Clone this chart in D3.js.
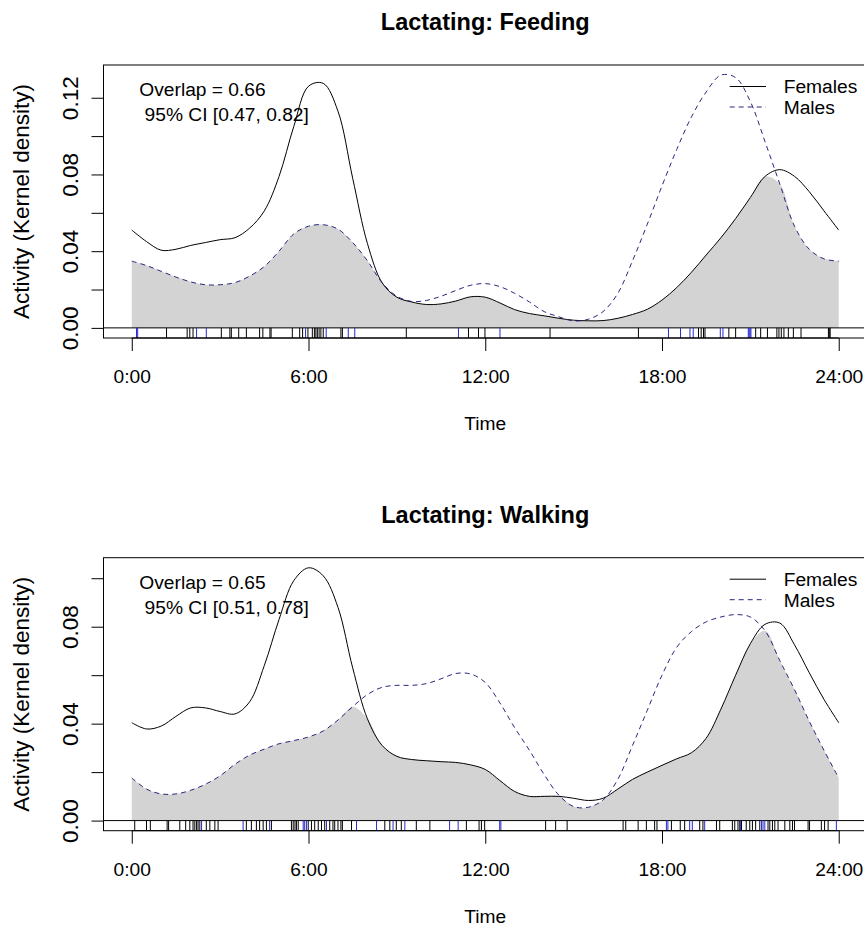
<!DOCTYPE html>
<html>
<head>
<meta charset="utf-8">
<script src="https://cdn.jsdelivr.net/npm/d3@7"></script>
<style>
  body { margin: 0; background: #fff; }
  svg { display: block; }
  text { font-family: "Liberation Sans", Arial, Helvetica, sans-serif; fill: #000; }
</style>
</head>
<body>
<svg id="chart" width="864" height="927"></svg>
<script>
// Time of day (hours) at which the kernel densities are tabulated
const hours = [0, 0.5, 1, 1.5, 2, 2.5, 3, 3.5, 4, 4.5, 5, 5.5, 6, 6.5, 7, 7.5, 8, 8.5, 9, 9.5,
  10, 10.5, 11, 11.5, 12, 12.5, 13, 13.5, 14, 14.5, 15, 15.5, 16, 16.5, 17, 17.5, 18, 18.5, 19, 19.5,
  20, 20.5, 21, 21.5, 22, 22.5, 23, 23.5, 24];

// Feeding densities
const feedingFemales = [0.051, 0.045, 0.0405, 0.041, 0.043, 0.0445, 0.046, 0.047, 0.052, 0.061,
  0.079, 0.105, 0.126, 0.1275, 0.113, 0.078, 0.044, 0.0235, 0.016, 0.0135,
  0.0122, 0.0125, 0.014, 0.0162, 0.016, 0.013, 0.0095, 0.0075, 0.0063, 0.005,
  0.004, 0.0037, 0.0038, 0.005, 0.007, 0.0097, 0.0145, 0.021, 0.029, 0.038,
  0.047, 0.057, 0.068, 0.079, 0.0825, 0.079, 0.071, 0.061, 0.051];
const feedingMales = [0.0348, 0.0325, 0.0295, 0.0265, 0.024, 0.0225, 0.0225, 0.0236, 0.027, 0.032,
  0.040, 0.049, 0.053, 0.0538, 0.0515, 0.0445, 0.035, 0.0235, 0.0165, 0.0138,
  0.0143, 0.0165, 0.0195, 0.0222, 0.0231, 0.0215, 0.018, 0.0135, 0.0085, 0.0058,
  0.0036, 0.0045, 0.0085, 0.018, 0.035, 0.054, 0.074, 0.093, 0.110, 0.123,
  0.1318, 0.1305, 0.118, 0.097, 0.075, 0.053, 0.041, 0.036, 0.0348];

// Walking densities
const walkingFemales = [0.0404, 0.0378, 0.039, 0.043, 0.0465, 0.0465, 0.045, 0.044, 0.049, 0.064,
  0.083, 0.099, 0.1043, 0.101, 0.088, 0.063, 0.042, 0.031, 0.0265, 0.0252,
  0.0247, 0.0243, 0.024, 0.023, 0.0211, 0.0165, 0.012, 0.010, 0.010, 0.010,
  0.0092, 0.0083, 0.0092, 0.013, 0.017, 0.020, 0.0228, 0.0255, 0.028, 0.034,
  0.046, 0.060, 0.073, 0.081, 0.0815, 0.0725, 0.061, 0.050, 0.0404];
const walkingMales = [0.0176, 0.013, 0.011, 0.011, 0.0125, 0.015, 0.0185, 0.0232, 0.027, 0.0295,
  0.0317, 0.033, 0.0345, 0.037, 0.0415, 0.047, 0.052, 0.055, 0.0558, 0.0558,
  0.0565, 0.0585, 0.0607, 0.0605, 0.057, 0.0485, 0.0383, 0.029, 0.019, 0.0105,
  0.0058, 0.0055, 0.0085, 0.017, 0.031, 0.0455, 0.060, 0.0715, 0.078, 0.082,
  0.084, 0.085, 0.084, 0.0783, 0.066, 0.054, 0.041, 0.029, 0.0176];

// Observation times (rug)
const feedingRugFemales = [1.18, 1.88, 1.97, 2.08, 3.04, 3.33, 3.38, 3.63, 3.89, 4.34, 4.45, 4.69, 4.73,
  5.45, 5.7, 5.8, 5.98, 6.13, 6.2, 6.25, 6.3, 6.36, 6.42, 6.5, 7.1, 7.15, 9.32, 11.43, 11.77, 11.99,
  14.2, 17.2, 19.24, 19.33, 19.41, 19.46, 20.27, 20.5, 21.18, 21.35, 21.58, 21.9, 21.97, 22.05, 22.14,
  22.29, 22.46, 22.72, 23.65, 23.68, 23.71];
const feedingRugMales = [0.16, 0.2, 2.2, 2.53, 5.9, 6.6, 7.35, 7.57, 11.09, 12.5, 18.22, 18.63, 18.95,
  19.06, 19.98, 20.07, 20.93, 20.96, 20.99, 21.02];
const walkingRugFemales = [0.1, 0.5, 0.63, 1.2, 1.25, 1.63, 1.83, 1.97, 2.08, 2.14, 2.2, 2.25, 2.31, 2.53,
  2.65, 2.82, 2.93, 3.89, 4.06, 4.23, 4.34, 4.46, 4.57, 4.74, 5.42, 5.48, 5.54, 5.59, 5.65, 5.99, 6.1,
  6.21, 6.33, 6.44, 6.55, 6.72, 6.83, 6.89, 7.0, 7.1, 7.15, 7.46, 8.59, 8.76, 8.98, 9.15, 9.66, 10.12,
  11.36, 11.79, 11.87, 11.98, 14.05, 14.39, 14.78, 16.68, 16.77, 17.19, 17.47, 17.75, 17.83, 18.32,
  18.62, 18.77, 19.28, 19.39, 19.85, 19.96, 20.39, 20.47, 20.58, 20.64, 20.7, 20.86, 20.98, 21.07,
  21.18, 21.32, 21.6, 21.66, 21.75, 21.83, 21.94, 22.17, 22.34, 22.43, 22.5, 22.96, 23.01, 23.41,
  23.52, 23.64];
const walkingRugMales = [2.37, 3.78, 4.68, 5.82, 5.87, 5.93, 6.61, 7.63, 8.31, 8.87, 9.27, 10.79, 11.08,
  12.49, 12.53, 18.15, 18.2, 18.94, 19.03, 19.45, 20.66, 21.38, 21.43, 21.49, 23.92];

// Axis ticks and labels
const xTicks = [0, 6, 12, 18, 24];
const xTickLabels = ["0:00", "6:00", "12:00", "18:00", "24:00"];
const feedingYTicks = [0, 0.02, 0.04, 0.06, 0.08, 0.10, 0.12];
const feedingYTickLabels = ["0.00", "", "0.04", "", "0.08", "", "0.12"];
const walkingYTicks = [0, 0.02, 0.04, 0.06, 0.08, 0.10];
const walkingYTickLabels = ["0.00", "", "0.04", "", "0.08", ""];
const seriesNames = ["Females", "Males"];

const svg = d3.select("#chart");
const TICK_FONT = 19.2;   // horizontal labels
const ROT_FONT = 22.5;    // rotated labels
const MALE_COL = "#28287e";
const RUG_BLUE = "#2a2ad0";

function drawPanel(p) {
  const boxL = 103.5, boxR = 867, boxT = p.top, boxB = p.top + 273;
  const x = d3.scaleLinear().domain([-0.04 * 24, 24 * 1.04]).range([boxL, boxR]);
  const ymax = d3.max(p.females.concat(p.males));
  const y = d3.scaleLinear().domain([-0.04 * ymax, 1.04 * ymax]).range([boxB, boxT]);
  const g = svg.append("g");

  const rows = hours.map((h, i) => ({ h, f: p.females[i], m: p.males[i] }));
  const curve = d3.curveCatmullRom.alpha(0.5);

  // shared (overlap) area
  g.append("path")
    .attr("d", d3.area().curve(curve).x(d => x(d.h)).y0(y(0)).y1(d => y(Math.min(d.f, d.m)))(rows))
    .attr("fill", "#d3d3d3").attr("stroke", "none");

  // density lines
  g.append("path")
    .attr("d", d3.line().curve(curve).x(d => x(d.h)).y(d => y(d.f))(rows))
    .attr("fill", "none").attr("stroke", "#000").attr("stroke-width", 1);
  g.append("path")
    .attr("d", d3.line().curve(curve).x(d => x(d.h)).y(d => y(d.m))(rows))
    .attr("fill", "none").attr("stroke", MALE_COL).attr("stroke-width", 1)
    .attr("stroke-dasharray", "5,4");

  // zero line and rug
  g.append("line").attr("x1", boxL).attr("x2", boxR).attr("y1", y(0)).attr("y2", y(0))
    .attr("stroke", "#000").attr("stroke-width", 1);
  g.selectAll(".rugF").data(p.rugF).enter().append("line")
    .attr("x1", d => x(d)).attr("x2", d => x(d)).attr("y1", y(0)).attr("y2", boxB)
    .attr("stroke", "#000").attr("stroke-width", 1);
  g.selectAll(".rugM").data(p.rugM).enter().append("line")
    .attr("x1", d => x(d)).attr("x2", d => x(d)).attr("y1", y(0)).attr("y2", boxB)
    .attr("stroke", RUG_BLUE).attr("stroke-width", 1);

  // plot box
  g.append("rect").attr("x", boxL).attr("y", boxT).attr("width", boxR - boxL).attr("height", boxB - boxT)
    .attr("fill", "none").attr("stroke", "#000").attr("stroke-width", 1);

  // x axis
  const xa = g.append("g").attr("transform", `translate(0,${boxB})`)
    .call(d3.axisBottom(x).tickValues(xTicks).tickFormat((d, i) => xTickLabels[i]).tickSize(13).tickSizeOuter(0));
  xa.select(".domain").remove();
  xa.append("line").attr("x1", x(0)).attr("x2", x(24)).attr("stroke", "#000");
  xa.selectAll(".tick line").attr("stroke", "#000");
  xa.selectAll(".tick text").attr("y", 45).attr("dy", null)
    .style("font-size", TICK_FONT + "px").attr("fill", "#000");
  xa.attr("font-family", null).attr("font-size", null);

  // y axis
  const ya = g.append("g").attr("transform", `translate(${boxL},0)`)
    .call(d3.axisLeft(y).tickValues(p.yTicks).tickFormat((d, i) => p.yTickLabels[i]).tickSize(12).tickSizeOuter(0));
  ya.select(".domain").remove();
  ya.append("line").attr("y1", y(0)).attr("y2", y(p.yTicks[p.yTicks.length - 1])).attr("stroke", "#000");
  ya.selectAll(".tick line").attr("stroke", "#000");
  ya.selectAll(".tick text").attr("x", 0).attr("dy", null).attr("text-anchor", "middle")
    .attr("transform", "translate(-26,0) rotate(-90)")
    .style("font-size", ROT_FONT + "px").attr("fill", "#000");
  ya.attr("font-family", null).attr("font-size", null);

  // axis titles
  g.append("text").attr("x", (boxL + boxR) / 2).attr("y", boxB + 92).attr("text-anchor", "middle")
    .style("font-size", TICK_FONT + "px").text("Time");
  g.append("text").attr("transform", `translate(28.6,${(boxT + boxB) / 2}) rotate(-90)`)
    .attr("text-anchor", "middle").style("font-size", ROT_FONT + "px").text("Activity (Kernel density)");

  // main title
  g.append("text").attr("x", (boxL + boxR) / 2).attr("y", boxT - 35).attr("text-anchor", "middle")
    .style("font-size", "23.5px").style("font-weight", "bold").text(p.title);

  // overlap estimate
  g.append("text").attr("x", 139.3).attr("y", boxT + 31.3).style("font-size", TICK_FONT + "px").text(p.overlap);
  g.append("text").attr("x", 144.6).attr("y", boxT + 56).style("font-size", TICK_FONT + "px").text(p.ci);

  // legend
  const lg = g.append("g");
  seriesNames.forEach((name, i) => {
    const ly = boxT + 21.5 + i * 20.5;
    lg.append("line").attr("x1", 729.7).attr("x2", 766).attr("y1", ly).attr("y2", ly)
      .attr("stroke", i === 0 ? "#000" : MALE_COL).attr("stroke-width", 1)
      .attr("stroke-dasharray", i === 0 ? null : "5,4");
    lg.append("text").attr("x", 783.7).attr("y", ly + 6.8).style("font-size", TICK_FONT + "px").text(name);
  });
}

drawPanel({
  top: 65, title: "Lactating: Feeding",
  females: feedingFemales, males: feedingMales,
  rugF: feedingRugFemales, rugM: feedingRugMales,
  yTicks: feedingYTicks, yTickLabels: feedingYTickLabels,
  overlap: "Overlap = 0.66", ci: "95% CI [0.47, 0.82]"
});
drawPanel({
  top: 557.7, title: "Lactating: Walking",
  females: walkingFemales, males: walkingMales,
  rugF: walkingRugFemales, rugM: walkingRugMales,
  yTicks: walkingYTicks, yTickLabels: walkingYTickLabels,
  overlap: "Overlap = 0.65", ci: "95% CI [0.51, 0.78]"
});
</script>
</body>
</html>
